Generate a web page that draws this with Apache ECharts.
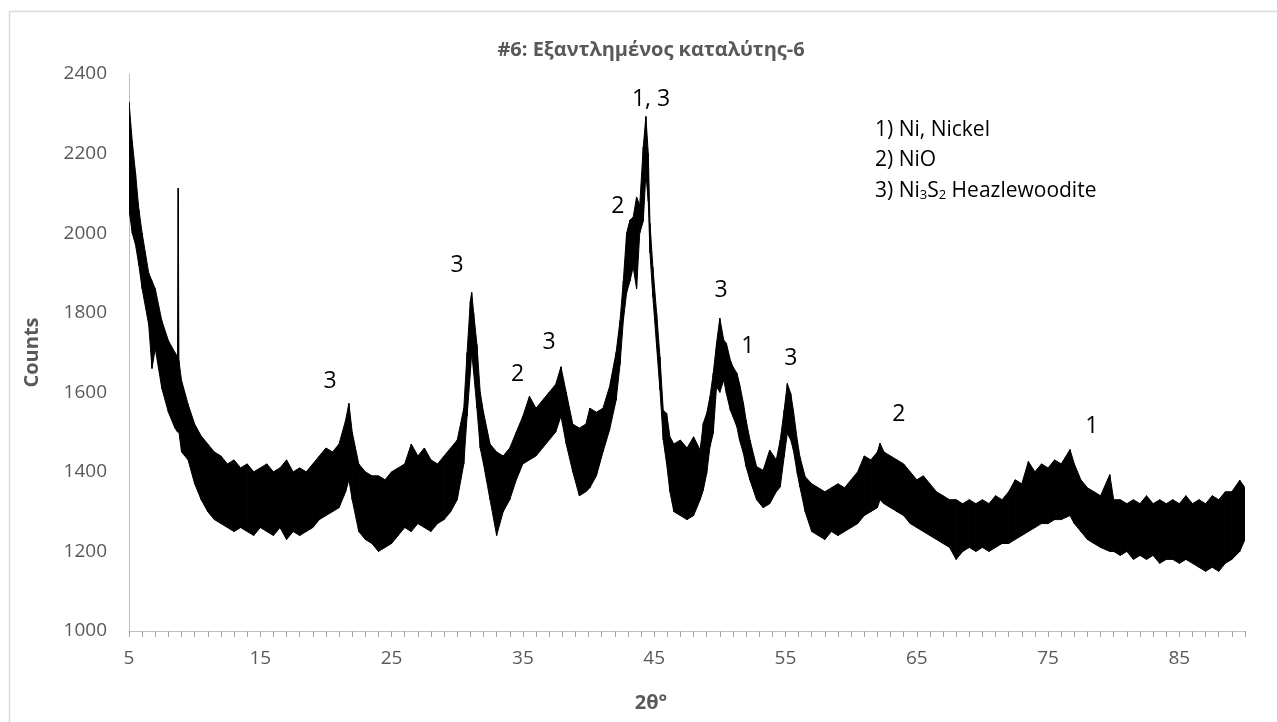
<!DOCTYPE html>
<html>
<head>
<meta charset="utf-8">
<script src="https://cdn.jsdelivr.net/npm/echarts@6/dist/echarts.min.js"></script>
<style>
html,body{margin:0;padding:0;background:#fff;}
#chart{width:1277px;height:722px;}
</style>
</head>
<body>
<div id="chart"></div>
<script>
// 2θ positions (degrees) at which the trace envelope was read
const twoTheta = [5.0,5.25,5.5,5.75,6.0,6.5,6.75,7.0,7.5,8.0,8.5,8.7,8.75,8.8,9.0,9.5,10.0,10.5,11.0,11.5,12.0,12.5,13.0,13.5,14.0,14.5,15.0,15.5,16.0,16.5,17.0,17.5,18.0,18.5,19.0,19.5,20.0,20.5,21.0,21.5,21.75,22.0,22.5,23.0,23.5,24.0,24.5,25.0,25.5,26.0,26.5,27.0,27.5,28.0,28.5,29.0,29.5,30.0,30.5,30.75,31.0,31.1,31.25,31.5,31.75,32.0,32.5,33.0,33.5,34.0,34.5,35.0,35.5,36.0,36.5,37.0,37.5,37.9,38.3,38.8,39.3,39.8,40.1,40.6,41.1,41.6,42.1,42.4,42.65,42.9,43.16,43.4,43.66,43.9,44.17,44.37,44.55,44.68,44.9,45.19,45.44,45.69,45.95,46.2,46.5,47.0,47.5,48.0,48.5,48.74,49.0,49.25,49.5,49.75,50.0,50.3,50.5,50.8,51.0,51.3,51.5,51.8,52.0,52.3,52.8,53.3,53.8,54.3,54.6,54.9,55.14,55.4,55.6,55.9,56.1,56.5,57.0,57.5,58.0,58.5,59.0,59.5,60.0,60.5,61.0,61.5,62.0,62.2,62.5,63.0,63.5,64.0,64.5,65.0,65.5,66.0,66.5,67.0,67.5,68.0,68.5,69.0,69.5,70.0,70.5,71.0,71.5,72.0,72.5,73.0,73.5,74.0,74.5,75.0,75.5,76.0,76.67,77.0,77.5,78.0,78.5,79.0,79.7,80.0,80.5,81.0,81.5,82.0,82.5,83.0,83.5,84.0,84.5,85.0,85.5,86.0,86.5,87.0,87.5,88.0,88.5,89.0,89.6,90.0];
// lower edge of the noisy trace (counts)
const countsLow = [2060,2000,1970,1920,1860,1770,1660,1710,1610,1550,1510,1500,1500,1500,1450,1430,1370,1330,1300,1280,1270,1260,1250,1260,1250,1240,1260,1250,1240,1260,1230,1250,1240,1250,1260,1280,1290,1300,1310,1350,1380,1330,1250,1230,1220,1200,1210,1220,1240,1260,1250,1270,1260,1250,1270,1280,1300,1330,1420,1540,1650,1700,1650,1560,1460,1420,1330,1240,1300,1330,1380,1420,1430,1440,1460,1480,1500,1540,1470,1400,1340,1350,1360,1390,1450,1505,1580,1670,1780,1850,1880,1915,1860,2000,2030,2150,2080,1950,1840,1714,1606,1480,1420,1350,1300,1290,1280,1290,1330,1354,1396,1463,1497,1614,1600,1631,1597,1555,1539,1513,1480,1446,1413,1379,1330,1310,1320,1350,1362,1438,1497,1480,1455,1396,1362,1300,1250,1240,1230,1250,1240,1250,1260,1270,1290,1300,1310,1330,1320,1310,1300,1290,1270,1260,1250,1240,1230,1220,1210,1180,1200,1210,1200,1210,1200,1210,1220,1220,1230,1240,1250,1260,1270,1270,1280,1280,1290,1270,1250,1230,1220,1210,1200,1200,1190,1200,1180,1190,1180,1190,1170,1180,1180,1170,1180,1170,1160,1150,1160,1150,1170,1180,1200,1230];
// upper edge of the noisy trace (counts)
const countsHigh = [2330,2230,2150,2060,2000,1900,1880,1860,1780,1730,1700,1690,2113,1680,1630,1570,1520,1490,1470,1450,1440,1420,1430,1410,1420,1400,1410,1420,1400,1410,1430,1400,1410,1400,1420,1440,1460,1450,1470,1530,1572,1500,1420,1400,1390,1390,1380,1400,1410,1420,1470,1440,1460,1430,1420,1440,1460,1480,1560,1700,1830,1851,1800,1720,1600,1550,1470,1450,1440,1460,1500,1540,1590,1560,1580,1600,1620,1664,1600,1520,1510,1520,1560,1550,1560,1614,1700,1780,1880,2000,2033,2040,2091,2070,2217,2293,2200,2025,1915,1798,1689,1555,1547,1488,1470,1480,1460,1488,1455,1522,1547,1589,1648,1723,1786,1731,1723,1681,1664,1648,1622,1572,1530,1480,1413,1404,1455,1430,1480,1555,1622,1597,1555,1480,1438,1388,1370,1360,1350,1360,1370,1360,1380,1400,1440,1430,1450,1472,1450,1440,1430,1420,1400,1380,1390,1370,1350,1340,1330,1330,1320,1330,1320,1330,1320,1340,1330,1350,1380,1370,1426,1400,1420,1410,1430,1420,1456,1420,1380,1360,1350,1340,1393,1330,1330,1320,1330,1320,1340,1320,1330,1320,1330,1320,1340,1320,1330,1320,1340,1330,1350,1350,1379,1360];
// phase labels above the peaks: [2θ, counts, text]
const peakLabels = [
  [20.31,1628,'3'],[29.98,1920,'3'],[34.59,1646,'2'],[36.99,1726,'3'],
  [42.24,2066,'2'],[44.76,2337,'1, 3'],[50.09,1857,'3'],[52.14,1716,'1'],
  [55.41,1684,'3'],[63.64,1545,'2'],[78.34,1515,'1']
];
const titleText = '#6: Εξαντλημένος καταλύτης-6';
const xName = '2θ°';
const yName = 'Counts';
const phaseLines = ['1) Ni, Nickel','2) NiO','3) Ni{sub|3}S{sub|2} Heazlewoodite'];

const FONT = "'Open Sans', 'Noto Sans', sans-serif";
const chart = echarts.init(document.getElementById('chart'), null, {renderer:'canvas'});

// one band segment per pair of neighbouring readings
const bandData = [];
for (let i = 0; i < twoTheta.length - 1; i++) {
  bandData.push([twoTheta[i], countsLow[i], countsHigh[i], twoTheta[i+1], countsLow[i+1], countsHigh[i+1]]);
}

function renderBand(params, api) {
  const a = api.coord([api.value(0), api.value(1)]);
  const b = api.coord([api.value(0), api.value(2)]);
  const c = api.coord([api.value(3), api.value(5)]);
  const d = api.coord([api.value(3), api.value(4)]);
  return {
    type:'polygon',
    shape:{points:[a,b,c,d]},
    style:{fill:'#000', stroke:'#000', lineWidth:1}
  };
}

const graphics = [
  {type:'rect', shape:{x:9.5,y:11.5,width:1400,height:900}, style:{fill:'none', stroke:'#d9d9d9', lineWidth:1.5}, silent:true},
  {type:'text', x:651, y:50, style:{text:titleText, font:"bold 20px "+FONT, fill:'#595959', align:'center', verticalAlign:'middle', textAlign:'center', textVerticalAlign:'middle'}},
  {type:'text', x:651, y:703, style:{text:xName, font:"bold 20px "+FONT, fill:'#595959', align:'center', verticalAlign:'middle', textAlign:'center', textVerticalAlign:'middle'}}
];
phaseLines.forEach((t,i)=>{
  graphics.push({type:'text', x:875, y:130 + i*30.5, style:{text:t, font:"21px "+FONT, fill:'#000', align:'left', verticalAlign:'middle', textAlign:'left', textVerticalAlign:'middle',
    rich:{sub:{fontSize:13, fontFamily:FONT, fill:'#000', verticalAlign:'bottom', padding:[8,0,0,0]}}}});
});

chart.setOption({
  animation:false,
  backgroundColor:'#fff',
  grid:{left:129, right:32, top:74, bottom:91, containLabel:false},
  xAxis:[{
    type:'value', min:5, max:90, interval:10,
    axisLine:{show:true, lineStyle:{color:'#bfbfbf', width:1}},
    axisTick:{show:false},
    splitLine:{show:false},
    axisLabel:{color:'#595959', fontSize:19, fontFamily:FONT, margin:18, showMaxLabel:false}
  },{
    type:'value', min:5, max:90, interval:1, position:'bottom', offset:0,
    axisLine:{show:false},
    axisTick:{show:true, inside:false, length:6, lineStyle:{color:'#a6a6a6', width:1}},
    axisLabel:{show:false},
    splitLine:{show:false}
  }],
  yAxis:{
    type:'value', min:1000, max:2400, interval:200,
    name:yName, nameLocation:'middle', nameGap:87,
    nameTextStyle:{color:'#595959', fontSize:20, fontWeight:'bold', fontFamily:FONT},
    axisLine:{show:true, lineStyle:{color:'#bfbfbf', width:1}},
    axisTick:{show:false},
    splitLine:{show:false},
    axisLabel:{color:'#595959', fontSize:19, fontFamily:FONT, margin:22, formatter:v=>String(v)}
  },
  series:[
    {type:'custom', data:bandData, renderItem:renderBand, clip:true, silent:true, z:3,
      encode:{x:[0,3], y:[1,2,4,5]}},
    {type:'line', data:[], symbol:'none', silent:true,
      markPoint:{symbol:'circle', symbolSize:1, itemStyle:{color:'rgba(0,0,0,0)'}, silent:true, animation:false,
        label:{show:true, position:'inside', color:'#000', fontSize:23, fontFamily:FONT, formatter:p=>p.data.value},
        data:peakLabels.map(a=>({coord:[a[0],a[1]], value:a[2]}))}}
  ],
  graphic:graphics
});
</script>
</body>
</html>
